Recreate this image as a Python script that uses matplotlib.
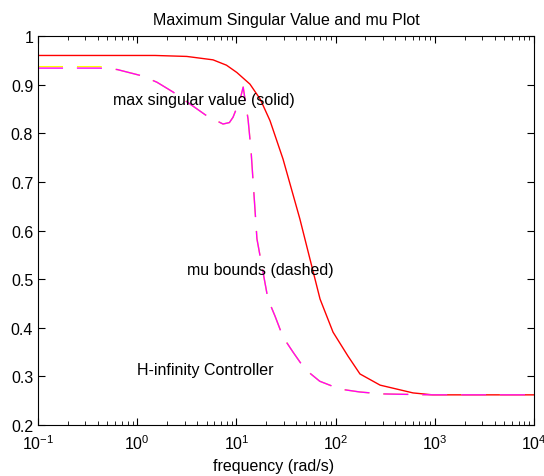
import matplotlib
matplotlib.use("Agg")
import matplotlib.pyplot as plt

plt.rcParams['font.family'] = ['Liberation Sans', 'DejaVu Sans']
plt.rcParams['mathtext.fontset'] = 'custom'
plt.rcParams['mathtext.rm'] = 'Liberation Sans'

# max singular value (solid red)
sv_freq = [0.1, 1.51, 3.16, 5.81, 7.94, 10.1, 13.7, 17.4, 21.8, 29.5, 43.6, 55.2,
           69.7, 94.2, 133, 176, 281, 603, 955, 10000]
sv_vals = [0.96, 0.96, 0.958, 0.951, 0.94, 0.925, 0.901, 0.87, 0.826, 0.747, 0.624,
           0.541, 0.459, 0.391, 0.342, 0.305, 0.282, 0.266, 0.262, 0.262]

# mu upper bound (dashed magenta)
mu_freq = [0.1, 0.42, 0.63, 1.12, 1.58, 2.29, 5.01, 7.33, 8.5, 9.25, 10.9, 11.7,
           13.1, 14.0, 15.7, 16.1, 20.8, 24.5, 29.5, 37.2, 49.0, 69.2, 110, 174,
           288, 955, 10000]
mu_upper = [0.934, 0.934, 0.931, 0.918, 0.905, 0.885, 0.836, 0.819, 0.822, 0.833,
            0.870, 0.895, 0.829, 0.768, 0.617, 0.583, 0.459, 0.424, 0.381, 0.350,
            0.315, 0.290, 0.274, 0.268, 0.264, 0.262, 0.262]
# mu lower bound (dashed yellow, mostly hidden under the upper bound)
mu_lower = [0.937, 0.937, 0.931, 0.918, 0.905, 0.885, 0.836, 0.819, 0.822, 0.833,
            0.870, 0.895, 0.829, 0.768, 0.617, 0.583, 0.459, 0.424, 0.381, 0.350,
            0.315, 0.290, 0.274, 0.268, 0.264, 0.262, 0.262]

y_ticks = [0.2, 0.3, 0.4, 0.5, 0.6, 0.7, 0.8, 0.9, 1]
y_labels = ['0.2', '0.3', '0.4', '0.5', '0.6', '0.7', '0.8', '0.9', '1']

fig = plt.figure(figsize=(5.44, 4.77), dpi=100)
ax = fig.add_axes([0.0699, 0.1069, 0.9117, 0.8155])

ax.plot(sv_freq, sv_vals, color='#ff0000', lw=1.0)
ax.plot(mu_freq, mu_lower, color='#ffff00', lw=1.0, dashes=(18, 10))
ax.plot(mu_freq, mu_upper, color='#ff00ff', lw=1.0, dashes=(18, 10))

ax.set_xscale('log')
ax.set_xlim(0.1, 1e4)
ax.set_ylim(0.2, 1)
ax.set_yticks(y_ticks)
ax.set_yticklabels(y_labels)

ax.text(0.57, 0.870, 'max singular value (solid)', va='center', fontsize=11.5)
ax.text(3.18, 0.519, 'mu bounds (dashed)', va='center', fontsize=11.5)
ax.text(1.0, 0.315, 'H-infinity Controller', va='center', fontsize=11.5)

ax.set_title('Maximum Singular Value and mu Plot', fontsize=11.5, pad=9)
ax.set_xlabel('frequency (rad/s)', fontsize=11.5, labelpad=4, x=0.475)

ax.tick_params(which='both', direction='in', top=True, right=True, labelsize=11.5)
ax.tick_params(axis='x', which='major', pad=6)
ax.tick_params(which='major', length=5)
ax.tick_params(which='minor', length=3)
for s in ax.spines.values():
    s.set_linewidth(0.8)

fig.savefig('out.png', dpi=100)
